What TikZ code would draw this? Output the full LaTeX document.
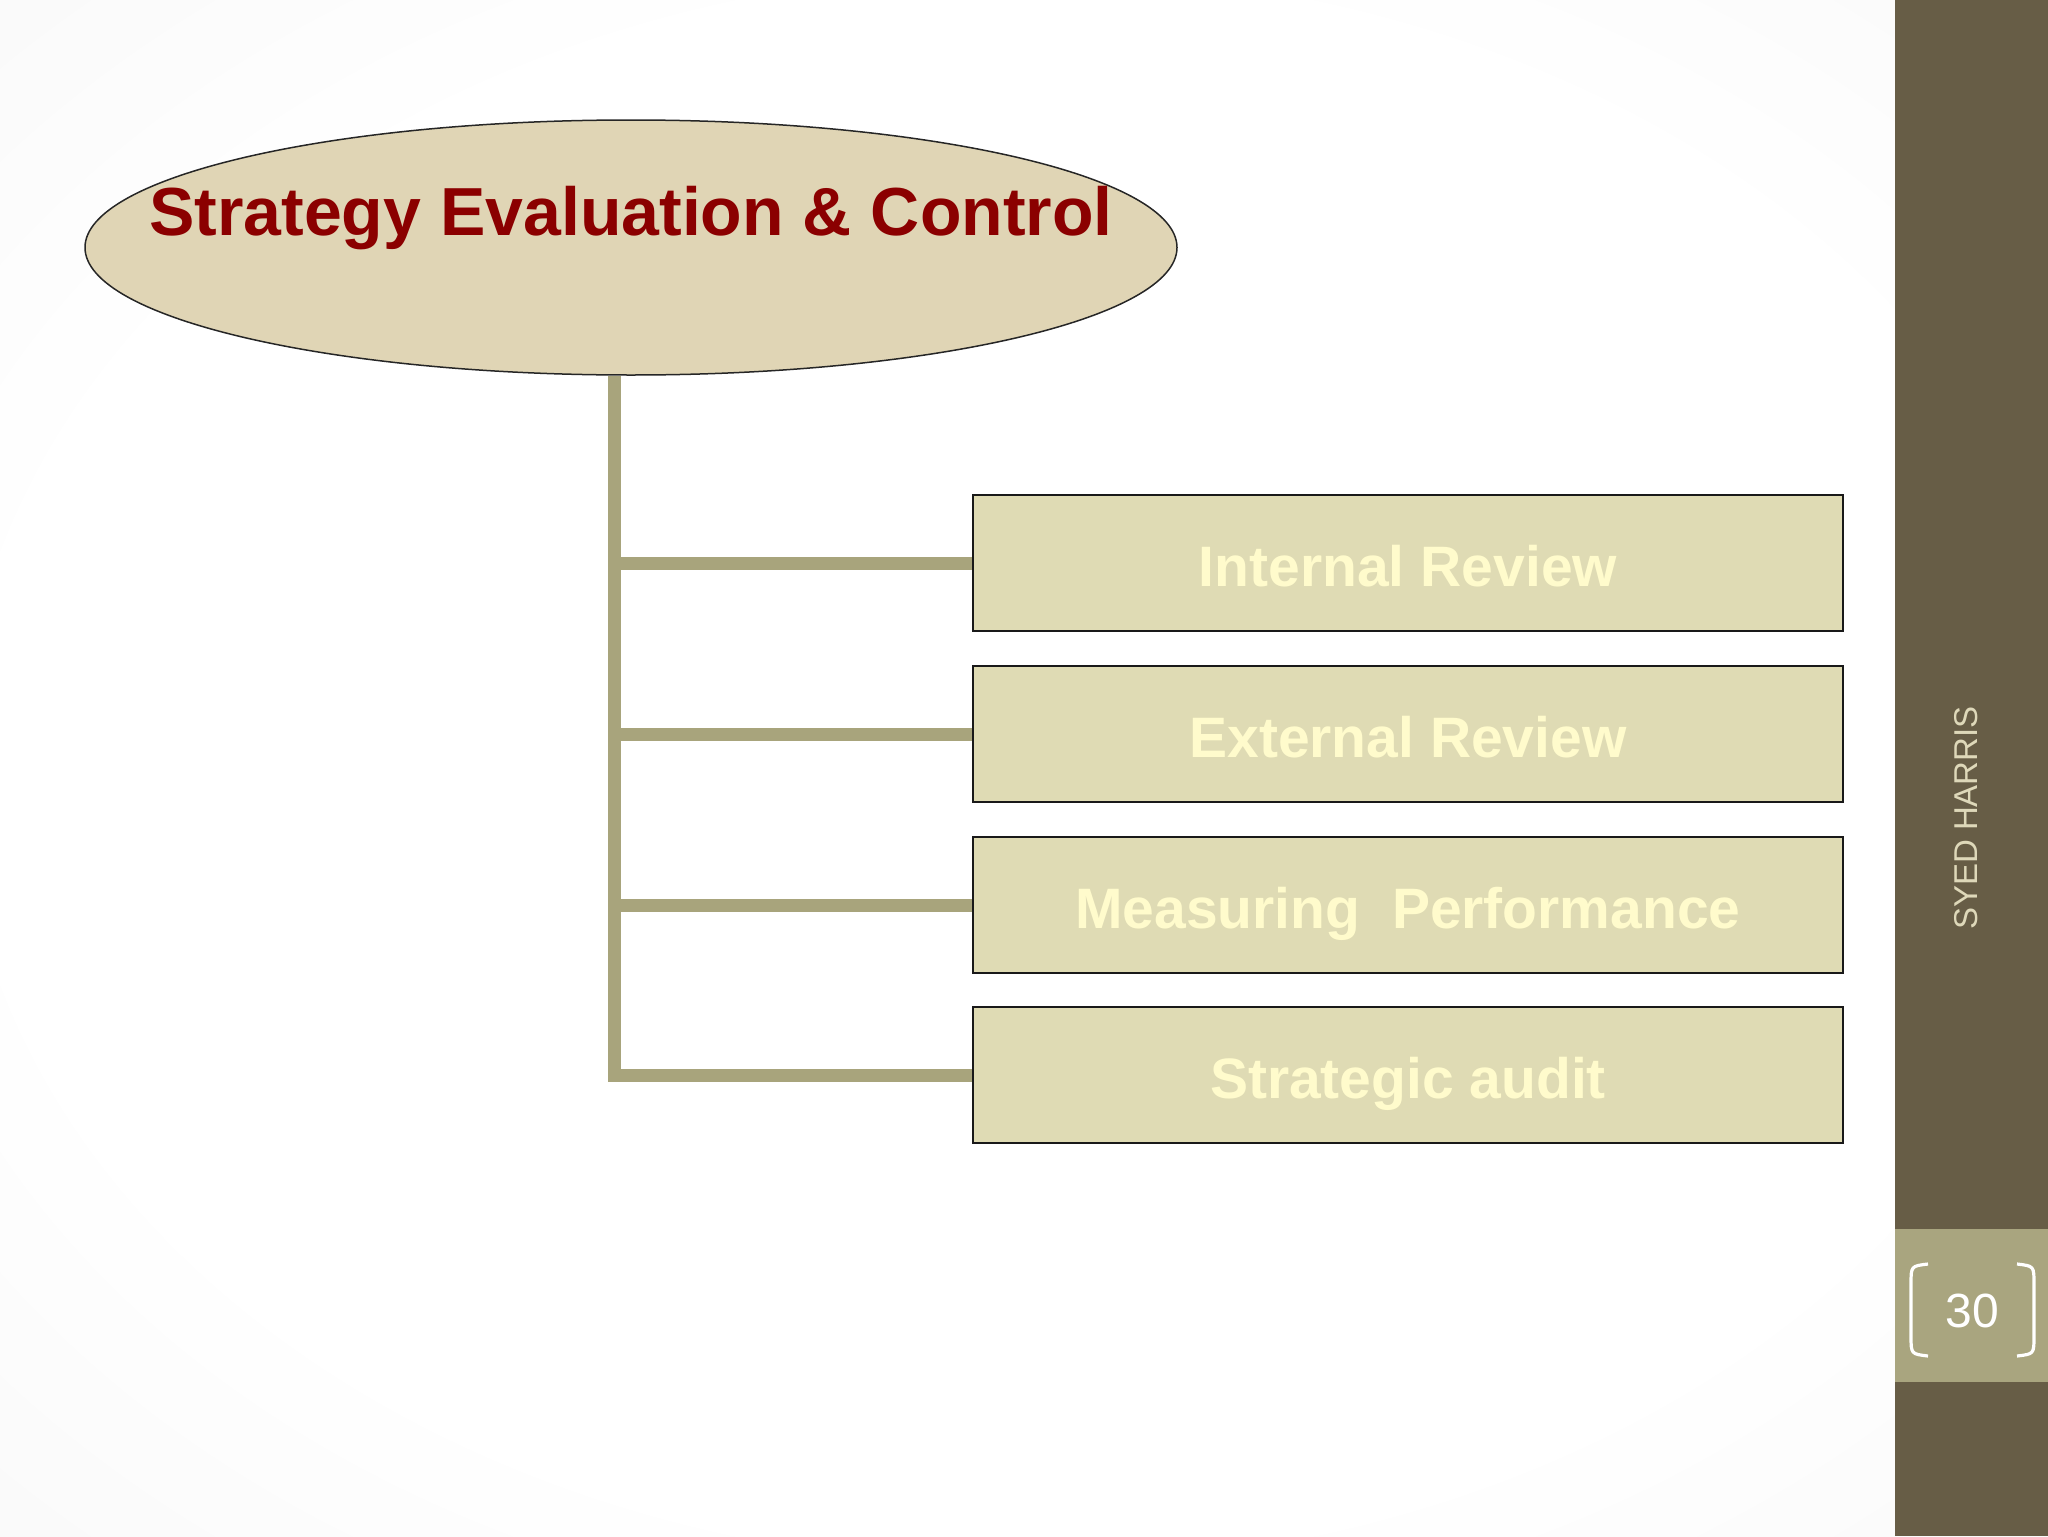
\documentclass[tikz,border=0pt]{standalone}
\usepackage{fontspec}
\setmainfont{Liberation Sans}
\usetikzlibrary{shapes.geometric}
\definecolor{titlered}{RGB}{139,0,0}
\definecolor{ellfill}{RGB}{224,213,181}
\definecolor{boxfill}{RGB}{223,219,180}
\definecolor{boxtext}{RGB}{255,251,204}
\definecolor{linkcol}{RGB}{168,164,124}
\definecolor{sidedark}{RGB}{103,93,70}
\definecolor{sideband}{RGB}{169,165,127}
\definecolor{sidetext}{RGB}{222,216,185}
\pgfdeclareradialshading{vign}{\pgfpoint{0bp}{0bp}}{color(0bp)=(white); color(25bp)=(white); color(50bp)=(black!5); color(71bp)=(black!14)}
\tikzset{
  headell/.style={ellipse, draw=black!85, line width=0.75pt, fill=ellfill,
    minimum width=546pt, minimum height=127.5pt, inner sep=0pt},
  titletext/.style={text=titlered, font=\fontsize{34pt}{40pt}\selectfont\bfseries, inner sep=0pt},
  stepbox/.style={rectangle, draw=black!90, line width=1pt, fill=boxfill,
    minimum width=435pt, minimum height=68pt, inner sep=0pt,
    text=boxtext, font=\fontsize{28.5pt}{34pt}\selectfont\bfseries,
    text height=23.7pt, text depth=0pt},
  link/.style={draw=linkcol, line width=6.5pt},
  bracket/.style={draw=white, line width=1.6pt}
}
\begin{document}
\begin{tikzpicture}[x=0.5pt,y=-0.5pt]
\useasboundingbox (0,0) rectangle (2048,1536);
\shade[shading=vign] (0,0) rectangle (2048,1536);

% side bar
\fill[sidedark] (1895,0) rectangle (2048,1536);
\fill[sideband] (1895,1229) rectangle (2048,1382);
\node[rotate=90, text=sidetext, font=\fontsize{16.5pt}{20pt}\selectfont, inner sep=0pt] (author) at (1966,818) {SYED HARRIS};
\node[text=white, font=\fontsize{24pt}{28pt}\selectfont, inner sep=0pt] (pagenum) at (1972,1311) {30};
\draw[bracket] (1928,1264) .. controls (1911,1266) .. (1911,1284) -- (1911,1336) .. controls (1911,1354) .. (1928,1356);
\draw[bracket] (2017,1264) .. controls (2034,1266) .. (2034,1284) -- (2034,1336) .. controls (2034,1354) .. (2017,1356);

% head ellipse
\node[headell] (eval) at (631,247.5) {};
\node[titletext, anchor=base] (title) at (631,235) {Strategy Evaluation \& Control};

% boxes
\node[stepbox] (b1) at (1408,563) {Internal Review};
\node[stepbox] (b2) at (1408,734) {External Review};
\node[stepbox] (b3) at (1408,905) {Measuring~ Performance};
\node[stepbox] (b4) at (1408,1075) {Strategic audit};

% connectors
\coordinate (ttop) at ([xshift=-8.5pt]eval.south);
\coordinate (tbot) at ([yshift=-3.25pt]ttop |- b4.west);
\draw[link] (ttop) -- (tbot);
\draw[link] (ttop |- b1.west) -- (b1.west);
\draw[link] (ttop |- b2.west) -- (b2.west);
\draw[link] (ttop |- b3.west) -- (b3.west);
\draw[link] (ttop |- b4.west) -- (b4.west);
\end{tikzpicture}
\end{document}
